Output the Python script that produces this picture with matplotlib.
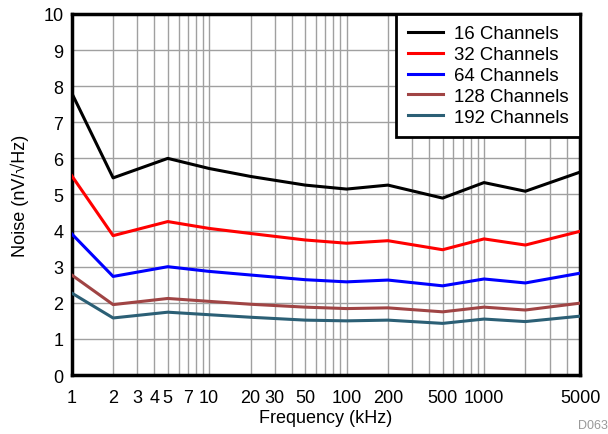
import matplotlib.pyplot as plt
from matplotlib.ticker import FixedLocator, FixedFormatter, LogLocator, NullFormatter

plt.rcParams['font.family'] = ['Liberation Sans', 'DejaVu Sans']

freq = [1, 2, 5, 10, 20, 50, 100, 200, 500, 1000, 2000, 5000]
ch16 = [7.81, 5.46, 6.0, 5.72, 5.5, 5.26, 5.15, 5.26, 4.9, 5.33, 5.09, 5.62]
ch32 = [5.52, 3.86, 4.25, 4.06, 3.92, 3.74, 3.65, 3.72, 3.47, 3.77, 3.6, 3.98]
ch64 = [3.91, 2.73, 3.0, 2.87, 2.77, 2.64, 2.58, 2.63, 2.47, 2.66, 2.55, 2.82]
ch128 = [2.77, 1.95, 2.12, 2.04, 1.96, 1.88, 1.84, 1.86, 1.75, 1.88, 1.80, 1.99]
ch192 = [2.27, 1.58, 1.74, 1.67, 1.6, 1.52, 1.50, 1.52, 1.43, 1.55, 1.48, 1.63]

series = [
    ('16 Channels', ch16, '#000000'),
    ('32 Channels', ch32, '#ff0000'),
    ('64 Channels', ch64, '#0000ff'),
    ('128 Channels', ch128, '#a04444'),
    ('192 Channels', ch192, '#2b5f75'),
]
xtick_vals = [1, 2, 3, 4, 5, 7, 10, 20, 30, 50, 100, 200, 500, 1000, 5000]

fig = plt.figure(figsize=(6.08, 4.35), dpi=100)
ax = fig.add_axes([0.118, 0.1356, 0.836, 0.83])

for label, vals, color in series:
    ax.plot(freq, vals, color=color, lw=2.2, label=label, zorder=3)

ax.set_xscale('log')
ax.set_xlim(1, 5000)
ax.set_ylim(0, 10)
ax.set_yticks(range(0, 11))

ax.xaxis.set_major_locator(FixedLocator(xtick_vals))
ax.xaxis.set_major_formatter(FixedFormatter([str(v) for v in xtick_vals]))
ax.xaxis.set_minor_locator(LogLocator(base=10, subs=range(1, 10), numticks=20))
ax.xaxis.set_minor_formatter(NullFormatter())
ax.grid(True, which='both', axis='x', color='#a0a0a0', lw=1.0, zorder=1)
ax.grid(True, which='major', axis='y', color='#a0a0a0', lw=1.0, zorder=1)
ax.tick_params(which='both', length=0, labelsize=13)
ax.tick_params(axis='x', pad=10)
ax.tick_params(axis='y', pad=6)

for s in ax.spines.values():
    s.set_linewidth(2.5)

ax.set_xlabel('Frequency (kHz)', fontsize=13, labelpad=2)
ax.set_ylabel('Noise (nV/\u221aHz)', fontsize=13, labelpad=10)

leg = ax.legend(loc='upper right', fontsize=13.4, frameon=True, fancybox=False,
                borderaxespad=0, handlelength=1.9, handletextpad=0.6,
                labelspacing=0.21, borderpad=0.6)
leg.get_frame().set_edgecolor('black')
leg.get_frame().set_linewidth(2.0)
leg.get_frame().set_alpha(1)

fig.text(0.95, 0.008, 'D063', color='#999999', fontsize=9, ha='left', va='bottom')

plt.savefig('out.png', dpi=100)
plt.close()
